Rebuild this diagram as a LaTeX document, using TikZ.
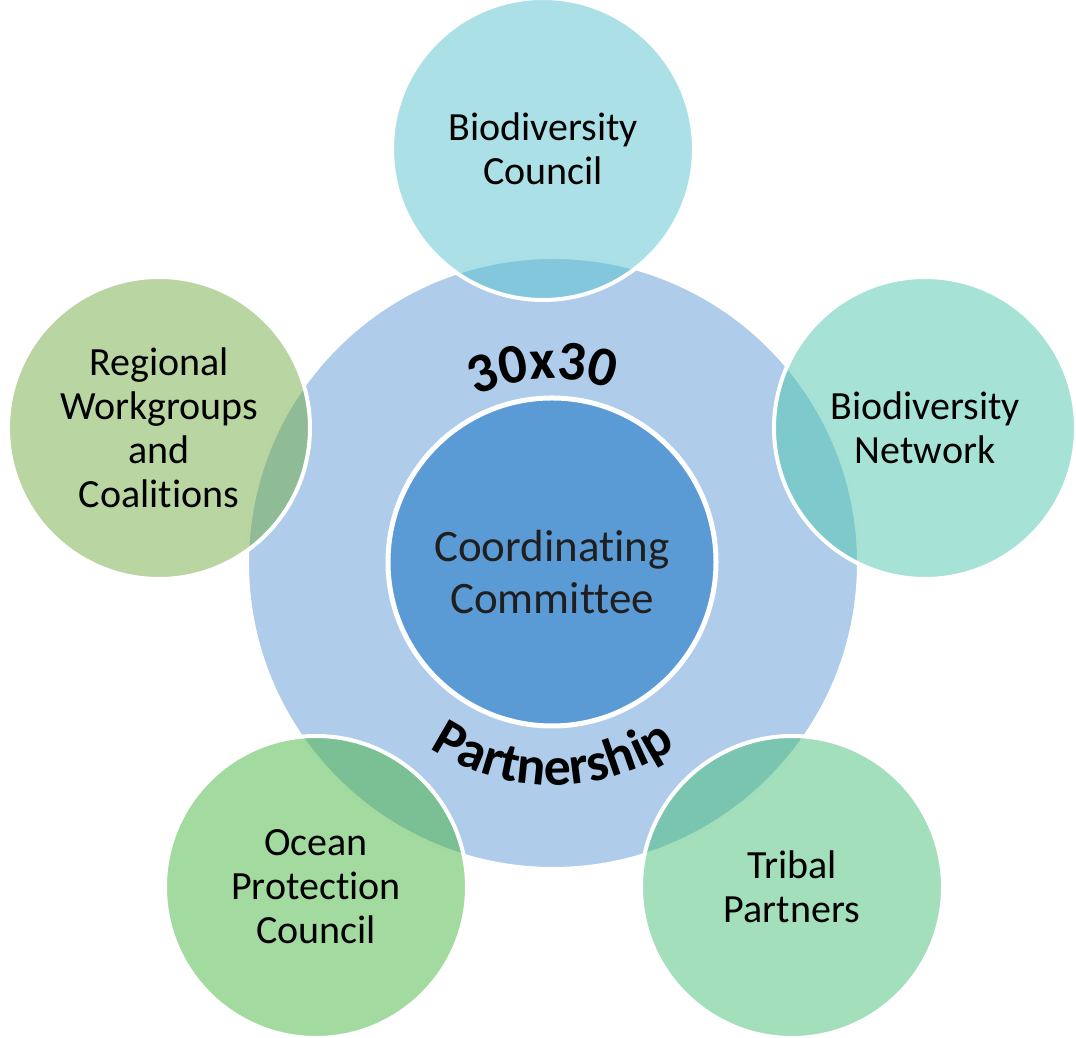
\documentclass[tikz,border=0pt]{standalone}
\usepackage{fontspec}
\setmainfont[Ligatures={NoCommon}]{Carlito}
\usetikzlibrary{decorations.text}
\definecolor{bigc}{RGB}{175,204,234}
\definecolor{innerc}{RGB}{91,155,213}
\definecolor{topc}{RGB}{87,195,205}
\definecolor{rightc}{RGB}{77,199,173}
\definecolor{leftc}{RGB}{115,171,69}
\definecolor{oceanc}{RGB}{71,181,63}
\definecolor{tribalc}{RGB}{71,191,117}
\newcommand\arcfontA{\fontsize{56}{60}\selectfont\bfseries}
\newcommand\arcfontB{\fontsize{54}{58}\selectfont\bfseries}
\begin{document}
\begin{tikzpicture}[x=1pt,y=1pt,
  sat/.style={circle, minimum size=302pt, draw=white, line width=4pt,
    fill opacity=0.5, text opacity=1, draw opacity=1, align=center,
    font=\fontsize{40}{44}\selectfont, inner sep=0pt}]
\useasboundingbox (0,0) rectangle (1076,1038);
\node[circle, minimum size=612pt, fill=bigc, draw=white, line width=4pt] (part) at (553,475) {};
\coordinate (c) at (553,475);
\node[circle, minimum size=328pt, fill=innerc, draw=white, line width=5pt] (cc) at (552,476) {};
\node[align=center, font=\fontsize{45}{52}\selectfont, text=black!88] (cct) at (552,466) {Coordinating\\Committee};
\path[decorate, decoration={text along path, text align=center,
  text={|\arcfontA|30x30}}]
  (c) ++(143:184) arc[start angle=143, end angle=43, radius=184];
\path[decorate, decoration={text along path, text align=center,
  text={|\arcfontB|Partnership}}]
  (c) ++(213:222) arc[start angle=213, end angle=327, radius=222];
\node[sat, fill=topc] (bc) at (543,889) {Biodiversity\\Council};
\node[sat, fill=rightc] (bn) at (925,610) {Biodiversity\\Network};
\node[sat, fill=leftc] (rw) at (159,610) {Regional\\Workgroups\\and\\Coalitions};
\node[sat, fill=oceanc] (op) at (316,151) {Ocean\\Protection\\Council};
\node[sat, fill=tribalc] (tp) at (792,151) {Tribal\\Partners};
\end{tikzpicture}
\end{document}
